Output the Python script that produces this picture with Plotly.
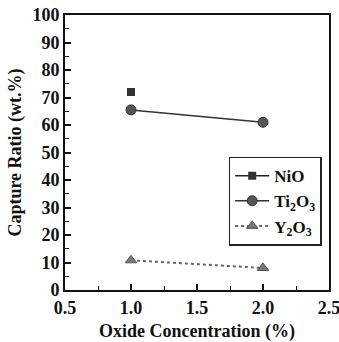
import plotly.graph_objects as go

x_nio = [1.0]
y_nio = [72]
x_ti = [1.0, 2.0]
y_ti = [65.5, 61]
x_y = [1.0, 2.0]
y_y = [10.8, 8]
x_ticks = [0.5, 1.0, 1.5, 2.0, 2.5]
x_labels = ["0.5", "1.0", "1.5", "2.0", "2.5"]

ff = "Liberation Serif, DejaVu Serif, serif"

fig = go.Figure()
fig.add_trace(go.Scatter(x=x_nio, y=y_nio, mode="lines+markers", name="NiO",
                         line=dict(color="#222", width=1.5),
                         marker=dict(symbol="square", size=8, color="#333")))
fig.add_trace(go.Scatter(x=x_ti, y=y_ti, mode="lines+markers", name="Ti<sub>2</sub>O<sub>3</sub>",
                         line=dict(color="#333", width=1.5),
                         marker=dict(symbol="circle", size=10, color="#555", line=dict(color="#333", width=1))))
fig.add_trace(go.Scatter(x=x_y, y=y_y, mode="lines+markers", name="Y<sub>2</sub>O<sub>3</sub>",
                         line=dict(color="#666", width=2, dash="dot"),
                         marker=dict(symbol="triangle-up", size=10, color="#777", line=dict(color="#555", width=1))))

fig.update_layout(
    width=339, height=342,
    margin=dict(l=65, r=10, t=15, b=52, autoexpand=False),
    paper_bgcolor="white", plot_bgcolor="white",
    font=dict(family=ff, size=16, color="#111", weight="bold"),
    showlegend=True,
    legend=dict(x=0.62, y=0.485, xanchor="left", yanchor="top",
                bordercolor="#222", borderwidth=1.5, bgcolor="white",
                font=dict(family=ff, size=17, color="#111", weight="bold"),
                itemwidth=34, tracegroupgap=0),
)
fig.update_xaxes(range=[0.5, 2.5], tickvals=x_ticks, ticktext=x_labels,
                 ticks="inside", ticklen=6, tickwidth=1.5, tickcolor="#111",
                 minor=dict(ticks="inside", ticklen=4, dtick=0.25, tickcolor="#111", tickwidth=1),
                 showline=True, linecolor="#111", linewidth=2, mirror=True,
                 showgrid=False, zeroline=False, automargin=False,
                 ticklabeloverflow="allow",
                 tickfont=dict(family=ff, size=18, color="#111", weight="bold"),
                 title=dict(text="Oxide Concentration (%)", font=dict(family=ff, size=18, color="#111", weight="bold"), standoff=9))
fig.update_yaxes(range=[0, 100], dtick=10,
                 ticks="inside", ticklen=6, tickwidth=1.5, tickcolor="#111",
                 minor=dict(ticks="inside", ticklen=4, dtick=5, tickcolor="#111", tickwidth=1),
                 showline=True, linecolor="#111", linewidth=2, mirror=True,
                 showgrid=False, zeroline=False, automargin=False,
                 ticklabeloverflow="allow",
                 tickfont=dict(family=ff, size=18, color="#111", weight="bold"),
                 title=dict(text="Capture Ratio (wt.%)", font=dict(family=ff, size=18, color="#111", weight="bold"), standoff=6))

fig.write_html("out.html")
